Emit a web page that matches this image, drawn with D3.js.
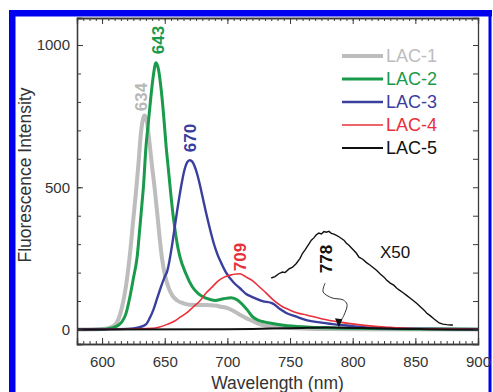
<!DOCTYPE html>
<html><head><meta charset="utf-8">
<script src="https://cdn.jsdelivr.net/npm/d3@7"></script>
<style>
html,body{margin:0;padding:0;background:#fff;}
svg{display:block;font-family:"Liberation Sans",Arial,Helvetica,sans-serif;}
</style></head>
<body>
<svg id="chart" width="493" height="392"></svg>
<script>
// ---------- data ----------
const seriesNames = ["LAC-1", "LAC-2", "LAC-3", "LAC-4", "LAC-5"];
const seriesColors = ["#bdbdbd", "#1a9a4b", "#3a3f9e", "#e8303a", "#111111"];
const seriesWidths = [4, 3, 2.4, 1.6, 2];

const wl1 = [580,600,605,610,613,616,619,622,625,627,629,631,633,634,636,638,640,642,644,646,648,650,653,656,660,665,670,680,690,695,700,705,710,715,720,725,730,740,750,770,800,900];
const lac1 = [0,2,5,15,35,80,150,255,390,480,580,690,745,752,725,650,570,495,410,320,245,195,148,120,102,92,87,86,84,80,75,65,52,40,30,20,14,8,5,2,1,0];

const wl2 = [580,600,605,610,613,616,619,622,625,628,630,632,633,635,637,639,641,643,645,647,649,651,653,655,657,660,662,667,672,677,683,690,697,703,708,712,716,720,725,730,736,745,763,780,800,850,900];
const lac2 = [0,1,3,8,15,28,55,110,180,255,350,450,500,640,730,820,895,938,915,850,760,650,560,470,390,300,258,195,150,125,110,102,108,112,104,88,68,45,32,26,21,15,9,6,4,2,1];

const wl3 = [580,620,630,635,638,641,644,647,650,652,656,658,660,662,664,666,668,670,672,674,676,678,680,683,686,689,692,695,699,705,710,715,720,728,736,742,747,755,763,775,790,800,816,840,900];
const lac3 = [0,2,8,18,40,70,110,150,185,205,300,360,420,475,525,565,588,595,590,572,545,510,470,410,355,305,265,235,200,165,145,125,114,100,92,72,58,45,33,24,16,12,6,3,1];

const wl4 = [580,620,640,646,652,658,663,668,673,678,683,688,693,698,703,707,710,713,716,720,725,731,737,744,750,756,763,775,790,803,816,828,838,860,900];
const lac4 = [0,1,4,9,18,30,45,60,80,100,128,150,172,185,192,195,196,190,182,172,152,128,102,80,68,58,51,38,26,18,12,8,5,2,1];

const wl5 = [580,700,720,735,750,760,770,778,790,800,815,830,845,860,880,900];
const lac5 = [0,1,2,3.6,4.4,5.4,6.5,6.9,6.4,5.6,4.4,3.3,2.1,1.2,0.3,0];

// LAC-5 spectrum multiplied by 50
const wl5x50 = [735,738,741,744,746,749,752,755,758,760,762,765,767,769,771,773,775,777,779,781,783,785,787,789,791,793,795,797,800,803,805,808,811,814,816,819,822,825,827,830,833,835,837,840,843,846,848,851,854,857,859,862,865,867,869,872,875,878,880];
const lac5x50 = [181,186,196,202,200,212,219,232,250,268,280,300,314,322,333,339,336,344,342,345,338,335,331,326,320,314,303,296,282,268,254,247,235,226,219,208,195,184,174,163,155,146,139,130,120,110,103,92,80,68,58,48,37,30,23,19,17,16,16];

const peakLabels = ["634", "643", "670", "709", "778"];
const xTickLabels = [600, 650, 700, 750, 800, 850, 900];
const yTickLabels = [0, 500, 1000];

// ---------- layout ----------
const svg = d3.select("#chart");
const L = 77, R = 478, T = 18, B = 344;
const x = d3.scaleLinear().domain([580, 900]).range([L, R]);
const y = d3.scaleLinear().domain([-51, 1095]).range([B, T]);
const axisColor = "#3a3a3a";
const tickFont = 15;

// blue frame
svg.append("rect").attr("x", 9).attr("y", 10).attr("width", 483).attr("height", 6.5).attr("fill", "#0000f0");
svg.append("rect").attr("x", 9).attr("y", 10).attr("width", 6.5).attr("height", 382).attr("fill", "#0000f0");
svg.append("rect").attr("x", 488.5).attr("y", 10).attr("width", 3).attr("height", 382).attr("fill", "#0000f0");

svg.append("defs").append("clipPath").attr("id", "clip")
  .append("rect").attr("x", L).attr("y", T).attr("width", R - L).attr("height", B - T);

// curves
const line = d3.line().x(d => x(d[0])).y(d => y(d[1])).curve(d3.curveMonotoneX);
const g = svg.append("g").attr("clip-path", "url(#clip)");
const series = [
  [wl1, lac1], [wl2, lac2], [wl3, lac3], [wl4, lac4], [wl5, lac5]
];
series.forEach((s, i) => {
  g.append("path").datum(s[0].map((w, k) => [w, s[1][k]]))
    .attr("d", line).attr("fill", "none")
    .attr("stroke", seriesColors[i]).attr("stroke-width", seriesWidths[i])
    .attr("stroke-linejoin", "round");
});
g.append("path").datum(wl5x50.map((w, k) => [w, lac5x50[k]]))
  .attr("d", d3.line().x(d => x(d[0])).y(d => y(d[1])))
  .attr("fill", "none").attr("stroke", "#111").attr("stroke-width", 1.4);

// axes
function styleAxis(sel) {
  sel.select(".domain").attr("stroke", axisColor).attr("stroke-width", 1.3);
  sel.selectAll(".tick line").attr("stroke", axisColor).attr("stroke-width", 1);
  sel.selectAll(".tick text").attr("fill", "#333").style("font-size", tickFont + "px");
}
const minorX = d3.range(580, 901, 5);
const minorY = d3.range(0, 1001, 100);
// bottom
svg.append("g").attr("transform", `translate(0,${B})`)
  .call(d3.axisBottom(x).tickValues(minorX).tickSize(-3).tickFormat(""))
  .call(styleAxis);
svg.append("g").attr("transform", `translate(0,${B})`)
  .call(d3.axisBottom(x).tickValues(xTickLabels).tickSize(-6).tickPadding(12).tickFormat(d3.format("d")))
  .call(styleAxis);
// top
svg.append("g").attr("transform", `translate(0,${T})`)
  .call(d3.axisTop(x).tickValues(minorX).tickSize(-3).tickFormat(""))
  .call(styleAxis);
svg.append("g").attr("transform", `translate(0,${T})`)
  .call(d3.axisTop(x).tickValues(xTickLabels).tickSize(-6).tickFormat(""))
  .call(styleAxis);
// left
svg.append("g").attr("transform", `translate(${L},0)`)
  .call(d3.axisLeft(y).tickValues(minorY).tickSize(-4).tickFormat(""))
  .call(styleAxis);
svg.append("g").attr("transform", `translate(${L},0)`)
  .call(d3.axisLeft(y).tickValues(yTickLabels).tickSize(-6).tickPadding(7).tickFormat(d3.format("d")))
  .call(styleAxis);
// right
svg.append("g").attr("transform", `translate(${R},0)`)
  .call(d3.axisRight(y).tickValues(minorY).tickSize(-5).tickFormat(""))
  .call(styleAxis);

// axis titles
svg.append("text").attr("x", (L + R) / 2).attr("y", 389).attr("text-anchor", "middle")
  .attr("fill", "#333").style("font-size", "17.5px").text("Wavelength (nm)");
svg.append("text").attr("transform", `translate(31,${(T + B) / 2 - 6}) rotate(-90)`)
  .attr("text-anchor", "middle").attr("fill", "#333").style("font-size", "17.5px")
  .text("Fluorescence Intensity");

// peak labels (rotated)
const peakLabelPos = [[141, 97], [157.5, 40], [190, 138], [240, 257], [326, 259]];
const peakColors = ["#b8b8b8", "#1a9a4b", "#3a3f9e", "#e8303a", "#111"];
peakLabels.forEach((t, i) => {
  svg.append("text")
    .attr("transform", `translate(${peakLabelPos[i][0]},${peakLabelPos[i][1]}) rotate(-90)`)
    .attr("text-anchor", "middle").attr("dy", "0.36em")
    .attr("fill", peakColors[i]).style("font-size", "17px").style("font-weight", "bold")
    .text(t);
});
svg.append("text").attr("x", 395).attr("y", 252).attr("dy", "0.36em").attr("text-anchor", "middle")
  .attr("fill", "#111").style("font-size", "17px").text("X50");

// curly arrow from 778 label to the LAC-5 curve
const arrowPts = [[778, 163], [776.4, 132], [783.6, 111], [792.4, 104], [795.5, 88], [793, 50], [789.5, 24]];
svg.append("path").datum(arrowPts)
  .attr("d", d3.line().x(d => x(d[0])).y(d => y(d[1])).curve(d3.curveCatmullRom))
  .attr("fill", "none").attr("stroke", "#333").attr("stroke-width", 1);
const tip = [x(789), y(8)];
svg.append("path")
  .attr("d", `M${tip[0]},${tip[1]} L${tip[0] - 4},${tip[1] - 9} L${tip[0] + 3.5},${tip[1] - 8} Z`)
  .attr("fill", "#111");

// legend
const legX1 = 342, legX2 = 383, legY0 = 56, legDy = 23;
seriesNames.forEach((n, i) => {
  const yy = legY0 + i * legDy;
  svg.append("line").attr("x1", legX1).attr("x2", legX2).attr("y1", yy).attr("y2", yy)
    .attr("stroke", seriesColors[i]).attr("stroke-width", Math.min(seriesWidths[i], 4));
  svg.append("text").attr("x", legX2 + 3).attr("y", yy).attr("dy", "0.36em")
    .attr("fill", seriesColors[i]).style("font-size", "18px").text(n);
});
</script>
</body></html>
